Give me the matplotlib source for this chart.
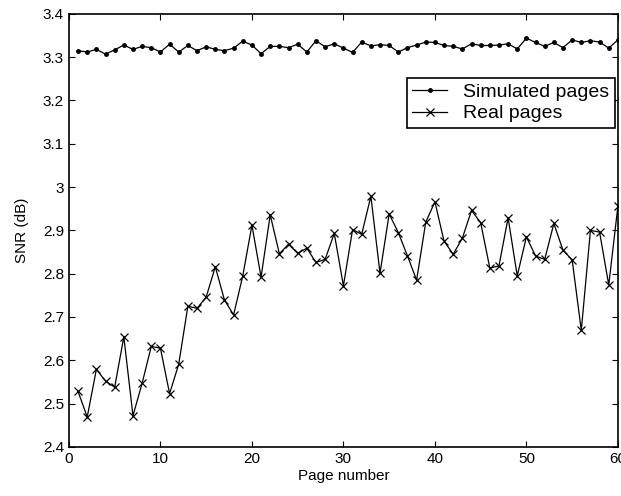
import matplotlib
matplotlib.use("Agg")
import matplotlib.pyplot as plt

plt.rcParams['font.family'] = ['Liberation Sans Narrow', 'Liberation Sans', 'DejaVu Sans']

# page numbers 1..60
pages = list(range(1, 61))

# SNR of simulated pages (dB)
simulated = [3.315, 3.312, 3.318, 3.307, 3.317, 3.328, 3.318, 3.325, 3.322, 3.312,
             3.330, 3.312, 3.327, 3.315, 3.324, 3.318, 3.315, 3.321, 3.337, 3.328,
             3.308, 3.325, 3.325, 3.322, 3.330, 3.312, 3.338, 3.324, 3.331, 3.321,
             3.311, 3.335, 3.326, 3.329, 3.327, 3.312, 3.322, 3.328, 3.335, 3.334,
             3.327, 3.325, 3.319, 3.331, 3.327, 3.327, 3.328, 3.331, 3.319, 3.344,
             3.334, 3.325, 3.334, 3.322, 3.340, 3.334, 3.338, 3.335, 3.321, 3.340]

# SNR of real pages (dB)
real = [2.528, 2.469, 2.579, 2.552, 2.538, 2.654, 2.472, 2.547, 2.632, 2.628,
        2.523, 2.591, 2.725, 2.720, 2.746, 2.816, 2.739, 2.705, 2.795, 2.912,
        2.792, 2.936, 2.846, 2.868, 2.847, 2.859, 2.826, 2.833, 2.893, 2.772,
        2.902, 2.891, 2.979, 2.801, 2.938, 2.895, 2.841, 2.785, 2.919, 2.966,
        2.875, 2.845, 2.882, 2.946, 2.918, 2.813, 2.818, 2.929, 2.795, 2.885,
        2.841, 2.833, 2.916, 2.854, 2.832, 2.669, 2.900, 2.896, 2.774, 2.956]

yticks = [2.4, 2.5, 2.6, 2.7, 2.8, 2.9, 3.0, 3.1, 3.2, 3.3, 3.4]
ytick_labels = ['2.4', '2.5', '2.6', '2.7', '2.8', '2.9', '3', '3.1', '3.2', '3.3', '3.4']
xticks = [0, 10, 20, 30, 40, 50, 60]

fig = plt.figure(figsize=(6.21, 4.96), dpi=100)
ax = fig.add_axes([0.111, 0.099, 0.884, 0.873])

ax.plot(pages, simulated, color='black', lw=0.9, marker='.', markersize=5,
        label='Simulated pages')
ax.plot(pages, real, color='black', lw=0.9, marker='x', markersize=6,
        markeredgewidth=0.9, label='Real pages')

ax.set_xlim(0, 60)
ax.set_ylim(2.4, 3.4)
ax.set_xticks(xticks)
ax.set_yticks(yticks)
ax.set_yticklabels(ytick_labels)
ax.tick_params(direction='in', top=True, right=True, labelsize=11, length=4)
for s in ax.spines.values():
    s.set_linewidth(1.2)

ax.set_xlabel('Page number', fontsize=11, labelpad=2)
ax.set_ylabel('SNR (dB)', fontsize=11, labelpad=10)

leg = ax.legend(loc='upper left', bbox_to_anchor=(0.615, 0.853), fontsize=14,
                frameon=True, fancybox=False, edgecolor='black', framealpha=1,
                handlelength=1.8, borderpad=0.3, labelspacing=0.2,
                handletextpad=0.8, borderaxespad=0)
leg.get_frame().set_linewidth(1.2)

fig.savefig('out.png', dpi=100)
